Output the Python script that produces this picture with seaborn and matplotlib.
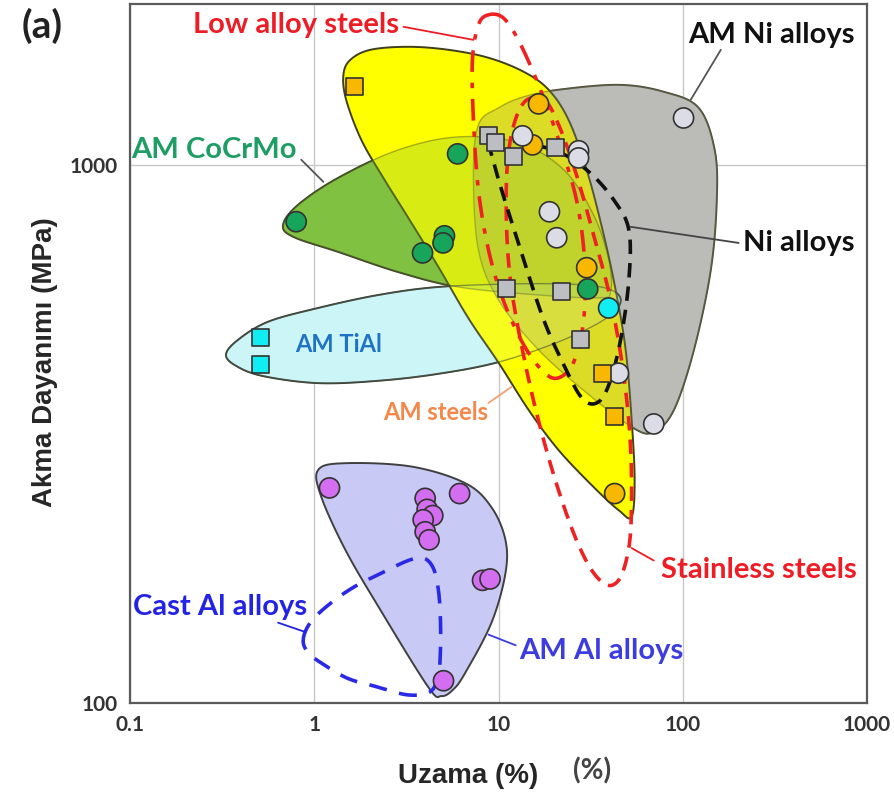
import numpy as np
import pandas as pd
import matplotlib
matplotlib.use("Agg")
import matplotlib.pyplot as plt
import seaborn as sns

# %% DATA  (elongation %, yield strength MPa)

# scatter points
orange_circ_x = [16.5, 15.3, 30.1, 42.7]
orange_circ_y = [1298, 1089, 644, 245]
orange_sq_x = [1.65, 36.7, 42.7]
orange_sq_y = [1397, 410, 341]
gray_circ_x = [101, 13.5, 27.2, 27.2, 18.9, 20.7, 44.8, 69.6]
gray_circ_y = [1222, 1132, 1062, 1030, 818, 732, 410, 330]
gray_sq_x = [8.83, 9.63, 12.1, 20.4, 11.0, 22.0, 27.9]
gray_sq_y = [1132, 1099, 1035, 1075, 590, 581, 473]
green_circ_x = [0.798, 3.87, 5.09, 5.0, 6.0, 30.5]
green_circ_y = [784, 686, 738, 716, 1048, 588]
cyan_sq_x = [0.509, 0.509]
cyan_sq_y = [477, 425]
cyan_circ_x = [39.6]
cyan_circ_y = [542]
purple_circ_x = [1.21, 4.0, 4.1, 4.4, 3.9, 4.0, 4.2, 6.15, 8.19, 9.0, 5.03]
purple_circ_y = [251, 240, 229, 223, 219, 208, 201, 245, 169, 170, 110]

# region outlines
ni_am_x = [7.78, 10, 13.7, 21.2, 45.0, 78.8, 122, 149, 153, 142, 115, 89.4, 69.6, 54.2, 30.9, 16.5, 10, 7.78, 7.31]
ni_am_y = [1187, 1276, 1338, 1379, 1408, 1367, 1276, 1066, 861, 638, 453, 350, 319, 324, 374, 453, 561, 695, 958]
steel_am_x = [1.44, 1.57, 2.02, 3.24, 5.34, 8.82, 13.7, 18.7, 24.0, 30.1, 36.7, 43.2, 49.0, 52.8, 54.8, 52.8,
              45.0, 32.8, 21.2, 14.6, 10, 6.86, 4.72, 3.24, 2.37, 1.80, 1.49]
steel_am_y = [1470, 1567, 1636, 1657, 1636, 1581, 1489, 1379, 1212, 979, 757, 586, 453, 336, 260, 222,
              228, 252, 295, 350, 429, 519, 646, 797, 946, 1113, 1321]
cocr_x = [0.678, 0.818, 1.35, 2.86, 6.06, 12.8, 22.6, 32.8, 39.7, 40.6, 35.0, 16.5, 6.06, 2.86, 1.35, 0.769]
cocr_y = [774, 843, 946, 1066, 1127, 1099, 979, 807, 666, 581, 566, 573, 593, 632, 689, 735]
tial_x = [0.332, 0.386, 0.562, 1.05, 2.23, 4.72, 12.8, 27.2, 40.6, 46.0, 37.2, 21.2, 10, 4.72, 2.23, 1.05, 0.528, 0.377]
tial_y = [444, 473, 511, 542, 573, 593, 601, 599, 586, 556, 515, 469, 430, 409, 397, 393, 405, 423]
al_am_x = [1.05, 1.47, 3.37, 6.62, 9.16, 10.9, 10.9, 9.16, 6.62, 5.69, 4.90, 4.16, 2.23, 1.47, 1.09]
al_am_y = [271, 279, 275, 256, 231, 201, 174, 141, 114, 106, 103, 107, 151, 193, 242]
al_cast_x = [0.871, 0.951, 1.19, 1.63, 2.37, 3.24, 3.91, 4.43, 4.72, 4.84, 4.84, 4.72, 4.27, 3.24, 2.23, 1.53, 1.12, 0.928]
al_cast_y = [131, 141, 152, 164, 175, 184, 186, 178, 162, 143, 125, 113, 105, 103.5, 107, 111, 118, 124]
low_alloy_x = [8.82, 10.6, 12.8, 16.5, 21.2, 26.5, 29.3, 29.0, 25.6, 21.2, 17.6, 13.7, 10.6, 8.82, 7.78, 7.31, 7.22, 7.78]
low_alloy_y = [1900, 1876, 1707, 1408, 1113, 861, 666, 515, 430, 402, 412, 463, 561, 695, 898, 1212, 1567, 1820]
stainless_x = [13.7, 17.6, 21.2, 26.5, 32.8, 40.6, 47.8, 52.2, 52.2, 47.8, 42.2, 36.3, 30.1, 24.0, 18.2, 14.2, 11.6, 11.0, 11.6]
stainless_y = [1304, 1321, 1187, 958, 741, 561, 407, 295, 210, 177, 166, 168, 183, 219, 295, 416, 611, 861, 1113]
ni_x = [9.05, 12.8, 21.2, 30.9, 42.2, 51.0, 51.0, 46.0, 39.7, 34.1, 28.3, 22.6, 17.6, 13.7, 11.0, 9.51]
ni_y = [1113, 1103, 1057, 971, 861, 757, 611, 473, 390, 361, 369, 425, 515, 666, 843, 1000]

x_ticks = [0.1, 1, 10, 100, 1000]
x_tick_labels = ["0.1", "1", "10", "100", "1000"]
y_ticks = [100, 1000]
y_tick_labels = ["100", "1000"]

# %% HELPERS

def smooth(xs, ys, n=30):
    # closed catmull-rom curve through the outline points, in log space
    p = np.log10(np.column_stack([xs, ys]))
    m = len(p)
    t = np.linspace(0, 1, n, endpoint=False)[:, None]
    segs = []
    for i in range(m):
        p0, p1, p2, p3 = p[i - 1], p[i], p[(i + 1) % m], p[(i + 2) % m]
        segs.append(0.5 * (2 * p1 + (p2 - p0) * t + (2 * p0 - 5 * p1 + 4 * p2 - p3) * t ** 2
                           + (3 * p1 - p0 - 3 * p2 + p3) * t ** 3))
    out = np.vstack(segs + [segs[0][:1]])
    return 10 ** out[:, 0], 10 ** out[:, 1]


def region(ax, xs, ys, face, edge, lw, z):
    sx, sy = smooth(xs, ys)
    ax.fill(sx, sy, facecolor=face, edgecolor=edge, linewidth=lw, zorder=z)


def loop(ax, xs, ys, color, ls, lw=2.6):
    sx, sy = smooth(xs, ys)
    ax.plot(sx, sy, color=color, linestyle=ls, linewidth=lw, zorder=4, dash_capstyle="butt")

# %% PLOT

sns.set_style("white")
plt.rcParams["font.family"] = ["Lato", "DejaVu Sans"]

fig = plt.figure(figsize=(8.94, 8), dpi=100)
ax = fig.add_axes([130 / 894, 97 / 800, 737 / 894, 699 / 800])
ax.set_xscale("log")
ax.set_yscale("log")
ax.set_xlim(0.1, 1000)
ax.set_ylim(100, 1990)

# opaque bases
region(ax, ni_am_x, ni_am_y, "#d0d0d0", "#505050", 1.4, 1.0)
region(ax, tial_x, tial_y, "#cdf6f8", "#404040", 1.4, 1.1)
region(ax, cocr_x, cocr_y, "#80c242", "#3a3a2a", 1.4, 1.2)
region(ax, steel_am_x, steel_am_y, "#ffff00", "#40401a", 1.4, 1.3)
region(ax, al_am_x, al_am_y, "#c9c9f5", "#404040", 1.4, 1.3)
# translucent overlays where the regions overlap
region(ax, ni_am_x, ni_am_y, (0.55, 0.55, 0.50, 0.30), (0.35, 0.35, 0.1, 0.45), 1.0, 1.4)
region(ax, cocr_x, cocr_y, (0.5, 0.75, 0.25, 0.30), (0.3, 0.35, 0.1, 0.45), 1.0, 1.5)
region(ax, tial_x, tial_y, (0.75, 0.95, 0.95, 0.12), (0.25, 0.3, 0.2, 0.55), 1.0, 1.6)

# dashed conventional alloy envelopes
loop(ax, low_alloy_x, low_alloy_y, "#ee2222", (0, (6, 3, 1.5, 3)))
loop(ax, stainless_x, stainless_y, "#ee2222", (0, (4, 2.5)))
loop(ax, ni_x, ni_y, "#111111", (0, (4, 2.5)))
loop(ax, al_cast_x, al_cast_y, "#2a2ae6", (0, (5, 3.5)))

# points
pts = pd.concat([
    pd.DataFrame({"x": orange_circ_x, "y": orange_circ_y, "grp": "steel", "mk": "o"}),
    pd.DataFrame({"x": orange_sq_x, "y": orange_sq_y, "grp": "steel", "mk": "s"}),
    pd.DataFrame({"x": gray_circ_x, "y": gray_circ_y, "grp": "ni_c", "mk": "o"}),
    pd.DataFrame({"x": gray_sq_x, "y": gray_sq_y, "grp": "ni_s", "mk": "s"}),
    pd.DataFrame({"x": green_circ_x, "y": green_circ_y, "grp": "cocr", "mk": "o"}),
    pd.DataFrame({"x": cyan_sq_x, "y": cyan_sq_y, "grp": "tial", "mk": "s"}),
    pd.DataFrame({"x": cyan_circ_x, "y": cyan_circ_y, "grp": "tial", "mk": "o"}),
    pd.DataFrame({"x": purple_circ_x, "y": purple_circ_y, "grp": "al", "mk": "o"}),
], ignore_index=True)
pal = {"steel": "#f8b800", "ni_c": "#dcdce6", "ni_s": "#bdbdc4", "cocr": "#16a55a",
       "tial": "#10eef4", "al": "#d46ef0"}

sns.scatterplot(data=pts[pts.mk == "o"], x="x", y="y", hue="grp", palette=pal, marker="o",
                s=210, edgecolor="#333333", linewidth=1.2, legend=False, zorder=5, ax=ax)
sns.scatterplot(data=pts[pts.mk == "s"], x="x", y="y", hue="grp", palette=pal, marker="s",
                s=150, edgecolor="#333333", linewidth=1.2, legend=False, zorder=5, ax=ax)

# labels with leader lines
lab = dict(fontsize=21, fontweight="bold", ha="center", va="center", zorder=6)
small = dict(lab, fontsize=17)
ax.text(0.80, 1820, "Low alloy steels", color="#ee1c25", **lab)
ax.plot([3.05, 7.31], [1805, 1707], color="#ee1c25", lw=1.3, zorder=6)
ax.text(301, 1744, "AM Ni alloys", color="#111111", **lab)
ax.plot([161, 110.5], [1636, 1321], color="#555555", lw=1.3, zorder=6)
ax.text(0.286, 1066, "AM CoCrMo", color="#1e9e64", **lab)
ax.plot([0.85, 1.12], [1022, 930], color="#555555", lw=1.3, zorder=6)
ax.text(427, 716, "Ni alloys", color="#111111", **lab)
ax.plot([52.2, 201], [767, 716], color="#444444", lw=1.3, zorder=6)
ax.text(1.35, 464, "AM TiAl", color="#1f72c4", **small)
ax.text(4.55, 346, "AM steels", color="#f5874a", **small)
ax.plot([8.82, 11.8], [361, 387], color="#f5a070", lw=1.3, zorder=6)
ax.text(259, 177, "Stainless steels", color="#ee1c25", **lab)
ax.plot([52.8, 69.6], [194, 184], color="#ee1c25", lw=1.3, zorder=6)
ax.text(0.308, 151, "Cast Al alloys", color="#2323e6", **lab)
ax.plot([0.637, 0.894], [141, 135.5], color="#2323e6", lw=1.3, zorder=6)
ax.text(36.3, 125, "AM Al alloys", color="#3c3ce0", **lab)
ax.plot([8.82, 12.4], [134, 128], color="#3c3ce0", lw=1.3, zorder=6)

# axes styling
ax.set_xticks(x_ticks)
ax.set_xticklabels(x_tick_labels)
ax.set_yticks(y_ticks)
ax.set_yticklabels(y_tick_labels)
ax.minorticks_off()
ax.tick_params(axis="both", which="major", direction="out", length=5, width=1.2,
               color="#555555", labelsize=15, labelcolor="#333333")
for t in ax.get_xticklabels() + ax.get_yticklabels():
    t.set_fontweight("bold")
ax.grid(True, which="major", color="#c8c8c8", linewidth=1.0, zorder=0)
ax.set_axisbelow(True)
for sp in ax.spines.values():
    sp.set_color("#5a5a5a")
    sp.set_linewidth(1.6)
ax.set_xlabel("")
ax.set_ylabel("")

fig.text(0.5235, 0.030, "Uzama (%)", fontsize=20, fontweight="bold", ha="center", va="center",
         family=["Liberation Sans", "DejaVu Sans"])
fig.text(0.662, 0.037, "(%)", fontsize=20, fontweight="bold", ha="center", va="center", color="#444444")
fig.text(0.050, 0.5475, "Akma Dayanımı (MPa)", fontsize=20, fontweight="bold", rotation=90,
         ha="center", va="center", family=["Liberation Sans", "DejaVu Sans"])
fig.text(0.047, 0.968, "(a)", fontsize=28, fontweight="bold", ha="center", va="center", color="#222222")

fig.savefig("out.png", dpi=100)
